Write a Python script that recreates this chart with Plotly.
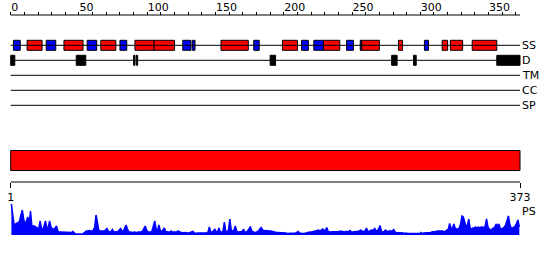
import plotly.graph_objects as go

LENGTH = 373

# Secondary structure (SS): helices (red) and strands (blue), residue boundaries
HELIX_START = [12, 39, 66, 91, 105, 154, 199, 229, 257, 284, 316, 322, 338]
HELIX_END = [23, 53, 77, 105, 120, 174, 210, 241, 270, 287, 320, 331, 356]
STRAND_START = [2, 26, 56, 80, 126, 133, 178, 213, 222, 246, 256, 303]
STRAND_END = [7, 33, 63, 85, 132, 135, 182, 218, 229, 251, 257, 306]

# Disorder (D)
DISORDER_START = [0, 48, 90, 92, 190, 279, 295, 356]
DISORDER_END = [3, 55, 91, 93, 194, 283, 297, 373]

# Domain bar
DOMAIN_START = [1]
DOMAIN_END = [373]

ROW_LABELS = ["SS", "D", "TM", "CC", "SP"]
RULER_MAJOR = [0, 50, 100, 150, 200, 250, 300, 350]
RULER_MINOR = list(range(0, 371, 10))
END_LABELS = ["1", "373"]

# PS profile (per residue)
PS = [
    31, 18, 10, 11, 12, 12, 14, 20, 25, 16, 10, 14, 18, 11, 24, 9, 9, 9, 8, 7,
    6, 14, 7, 5, 9, 14, 6, 8, 14, 8, 6, 6, 7, 9, 4, 3, 3, 3, 2.5, 3,
    2.5, 2.5, 3, 2.5, 2.5, 3.5, 2.5, 1, 1, 1, 1, 0.5, 1, 2, 3.5, 4, 4, 4.5, 4, 4,
    5, 8, 20, 12, 5, 4, 4, 3.5, 4, 5, 6.5, 4, 3, 3.5, 5.5, 3, 3, 3, 3.5, 5,
    6.5, 4, 4, 7, 10, 6, 3, 3, 2.5, 2.5, 3, 2.5, 2.5, 3, 3, 3, 4, 6, 9, 5,
    3, 3, 3, 4, 9, 14, 6, 4, 10, 5, 3, 5, 7, 3.5, 3, 3, 3, 4, 3, 3,
    2.5, 3, 4, 3, 2.5, 2.5, 2, 2.5, 2, 2, 2, 2.5, 3, 3.5, 2, 1.5, 2, 2, 1.5, 1.5,
    1.5, 1.5, 2, 2, 3, 8, 3, 3, 4, 6, 3, 3.5, 7, 3, 3, 4, 13, 4, 3, 5,
    16, 5, 4, 5, 9, 4, 3, 3, 3, 3.5, 6, 3, 3, 4, 6, 8.5, 4, 3, 2.5, 2.5,
    3, 4, 6, 7.5, 5, 4.5, 4, 4.5, 4, 4, 4, 3.5, 3, 3, 2.5, 2.5, 2.5, 2.5, 2.5, 2.5,
    2.5, 2, 1.5, 1.5, 1.5, 1.5, 1.5, 1.5, 2, 2.5, 3.5, 2, 1.5, 1.5, 1.5, 1.5, 2, 2.5, 3, 3,
    3, 3.5, 3.5, 4, 4.5, 5, 4, 5.5, 6, 4.5, 5, 7.5, 3.5, 3, 3, 3, 3.5, 3, 3.5, 3,
    3.5, 4, 3.5, 3.5, 3, 3.5, 3.5, 3.5, 4.5, 3, 3, 3.5, 3.5, 3, 4, 4, 5, 3.5, 3.5, 4,
    7, 4, 3.5, 4, 5, 4, 7, 4, 4.5, 6, 9.5, 4, 3, 3.5, 5, 3.5, 4, 4, 4, 4,
    5.5, 3, 2.5, 2.5, 2.5, 2, 2, 2, 1.5, 2, 1.5, 1.5, 1.5, 1.5, 1.5, 1.5, 1.5, 1.5, 1.5, 1.5,
    2.5, 1.5, 2, 2, 2, 2.5, 2.5, 2.5, 3, 3, 3, 3.5, 4, 4, 3.5, 4, 4, 3, 4, 5,
    6, 11.5, 7, 6, 11, 7, 6, 6, 7, 11, 19, 18, 13, 8, 10, 16, 7, 6, 7, 7,
    8, 7, 8, 7, 8, 8, 7, 9, 16, 8, 6, 5, 6, 7, 8, 11, 9, 11, 7, 6,
    7, 8, 10, 15, 19, 11, 7, 7, 8, 9, 12, 15, 8,
]

# ---------------- layout constants (pixel rows, y measured from top) ----------
W, H = 550, 260
PX_PER_RES = 509.3 / LENGTH
X0 = -10.7 / PX_PER_RES
X1 = X0 + W / PX_PER_RES
ROW_Y = {"SS": 45.3, "D": 60.3, "TM": 75.3, "CC": 90.3, "SP": 105.3}
RULER_TOP_Y = 15
DOMAIN_Y = 160.5
RULER_BOTTOM_Y = 182
PS_BASE_Y = 235
PS_TOP_Y = 203
FONT = dict(family="DejaVu Sans", size=11, color="black")

fig = go.Figure()

# Track lines (ruler line + each row line)
line_x, line_y = [], []
for yy in [RULER_TOP_Y] + [ROW_Y[r] for r in ROW_LABELS] + [RULER_BOTTOM_Y]:
    line_x += [0, LENGTH, None]
    line_y += [yy, yy, None]
fig.add_trace(go.Scatter(x=line_x, y=line_y, mode="lines",
                         line=dict(color="black", width=1), hoverinfo="skip",
                         showlegend=False, xaxis="x", yaxis="y"))


def add_boxes(starts, ends, row_y, width, color):
    fig.add_trace(go.Bar(
        orientation="h",
        base=starts,
        x=[e - s for s, e in zip(starts, ends)],
        y=[row_y] * len(starts),
        width=width,
        marker=dict(color=color, line=dict(color="black", width=1)),
        showlegend=False, xaxis="x", yaxis="y"))


add_boxes(HELIX_START, HELIX_END, ROW_Y["SS"], 10, "#ff0000")
add_boxes(STRAND_START, STRAND_END, ROW_Y["SS"], 10, "#0000ff")
add_boxes(DISORDER_START, DISORDER_END, ROW_Y["D"], 10, "#000000")
add_boxes([s - 1 for s in DOMAIN_START], DOMAIN_END, DOMAIN_Y, 20, "#ff0000")

# PS profile
fig.add_trace(go.Scatter(
    x=[i + 0.5 for i in range(len(PS))], y=PS, mode="lines",
    fill="tozeroy", fillcolor="#0000ff",
    line=dict(color="#0000ff", width=1.5),
    showlegend=False, xaxis="x", yaxis="y2"))

annotations = []
for r in ROW_LABELS:
    annotations.append(dict(x=LENGTH, y=ROW_Y[r], xref="x", yref="y", text=r,
                            showarrow=False, xanchor="left", yanchor="middle",
                            xshift=0, font=FONT))
annotations.append(dict(x=LENGTH, y=211, xref="x", yref="y", text="PS",
                        showarrow=False, xanchor="left", yanchor="middle",
                        font=FONT))

pd_top = 1 - PS_TOP_Y / H
pd_base = 1 - PS_BASE_Y / H

fig.update_layout(
    width=W, height=H,
    margin=dict(l=0, r=0, t=0, b=0),
    paper_bgcolor="white", plot_bgcolor="white",
    barmode="overlay",
    showlegend=False,
    font=FONT,
    xaxis=dict(range=[X0, X1], visible=False, domain=[0, 1]),
    yaxis=dict(range=[H, 0], visible=False, domain=[0, 1]),
    yaxis2=dict(range=[0, 32], visible=False, domain=[pd_base, pd_top], anchor="x"),
    xaxis2=dict(overlaying="x", matches="x", anchor="free",
                position=1 - RULER_TOP_Y / H, side="top",
                tickvals=RULER_MAJOR, ticktext=[str(v) for v in RULER_MAJOR],
                ticks="outside", ticklen=3, tickcolor="black", tickwidth=1,
                ticklabelposition="outside right",
                minor=dict(tickvals=RULER_MINOR, ticks="outside", ticklen=3,
                           tickcolor="black", tickwidth=1),
                showline=False, showgrid=False, zeroline=False,
                tickfont=FONT),
    xaxis3=dict(overlaying="x", matches="x", anchor="free",
                position=1 - RULER_BOTTOM_Y / H, side="bottom",
                tickvals=[0, LENGTH], ticktext=END_LABELS,
                ticks="outside", ticklen=5, tickcolor="black", tickwidth=1,
                showline=False, showgrid=False, zeroline=False,
                tickfont=FONT),
    annotations=annotations,
)

# dummy traces so the ruler axes are drawn
fig.add_trace(go.Scatter(x=[0], y=[RULER_TOP_Y], xaxis="x2", yaxis="y",
                         mode="markers", marker=dict(opacity=0), hoverinfo="skip",
                         showlegend=False))
fig.add_trace(go.Scatter(x=[0], y=[RULER_BOTTOM_Y], xaxis="x3", yaxis="y",
                         mode="markers", marker=dict(opacity=0), hoverinfo="skip",
                         showlegend=False))

fig.write_html("out.html")
